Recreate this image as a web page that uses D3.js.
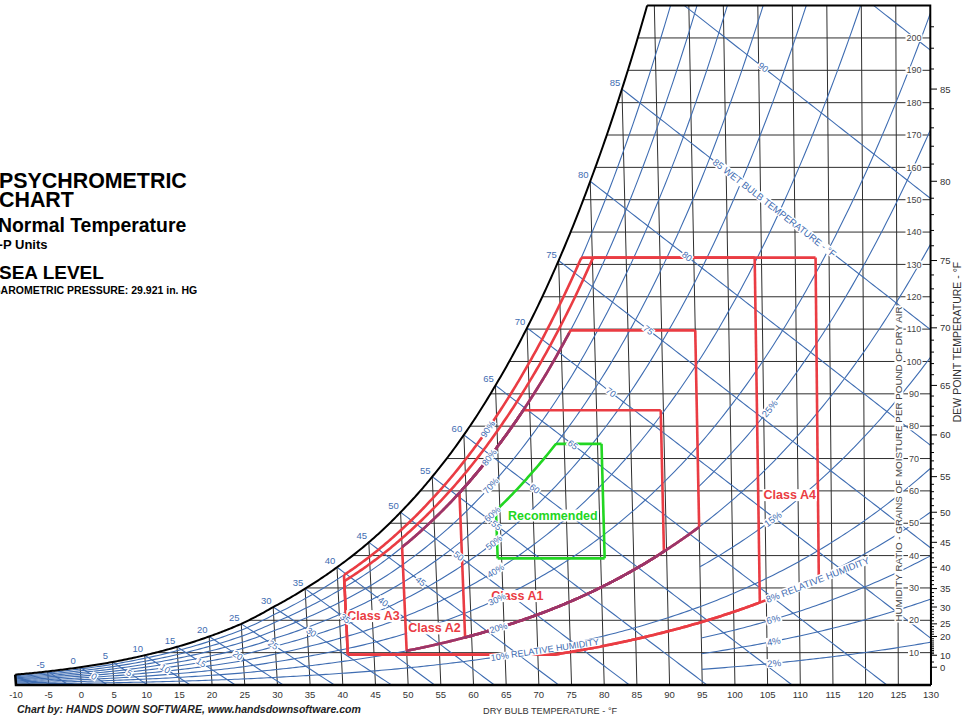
<!DOCTYPE html>
<html>
<head>
<meta charset="utf-8">
<script src="https://cdn.jsdelivr.net/npm/d3@7"></script>
<style>
  body { margin: 0; background: #fff; }
  svg { display: block; font-family: "Liberation Sans", Arial, sans-serif; }
</style>
</head>
<body>
<svg width="966" height="721"></svg>
<script>
// saturation humidity ratio at sea level (grains per lb of dry air), every 5 F
const satTemps  = [-10, -5, 0, 5, 10, 15, 20, 25, 30, 35, 40, 45, 50, 55, 60, 65, 70, 75, 80, 85, 90, 95, 100, 105, 110, 115, 120, 125, 130];
const satGrains = [3.2, 4.2, 5.5, 7.1, 9.2, 11.8, 15.0, 18.9, 24.1, 29.8, 36.4, 44.1, 53.4, 64.4, 77.3, 92.6, 110.4, 131.2, 155.7, 184.2, 217.4, 255.7, 300.7, 352.8, 413.9, 485, 567.7, 665, 778.4];

const dryBulbTicks = d3.range(-10, 131, 5);
const grainTicks   = d3.range(10, 201, 10);
const dewLabels    = [0, 10, 20, 25, 30, 35, 40, 45, 50, 55, 60, 65, 70, 75, 80, 85];
const rhMajor      = [10, 20, 30, 40, 50, 60, 70, 80, 90];
const rhMinor      = [2, 4, 6, 8, 15, 25];
const wetBulbs     = d3.range(-10, 96, 5);
const wbLabelled   = d3.range(0, 91, 5);
const satLabelled  = d3.range(-5, 86, 5);

// ASHRAE 2011 classes
const classNames = ["Class A1", "Class A2", "Class A3", "Class A4"];
const classDbMin = [59, 50, 41, 41];
const classDbMax = [89.6, 95, 104, 113];
const classRhMin = [20, 20, 8, 8];
const classRhMax = [80, 80, 85, 90];
const classDpMin = [null, null, 10.4, 10.4];
const classDpMax = [62.6, 69.8, 75.2, 75.2];
// recommended envelope
const recDb = [64.4, 80.6];
const recDpMin = 41.9, recDpMax = 59, recRhMax = 60;

const BLUE = '#3f6db2', RED = '#ea3c43', MAROON = '#9a356a', GREEN = '#22d622', GRID = '#2e2e2e';
const W_TOP = 210, P = 14.696, T0 = 132, SK = 0.444 / (0.24 * 7000);

const svg = d3.select('svg');
const x = d3.scaleLinear().domain([-10, 130]).range([16, 931]);
const y = d3.scaleLinear().domain([0, W_TOP]).range([685, 5.6]);
// dry bulb lines lean slightly (enthalpy based chart)
const px = (t, w) => x(t + (t - T0) * w * SK);
const pt = (t, w) => [px(t, w), y(w)];

const satLog = d3.scaleLinear().domain(satTemps).range(satGrains.map(Math.log));
const satT = d3.scaleLinear().domain(satGrains.map(Math.log)).range(satTemps);
const ws = t => Math.exp(satLog(t));
const tSat = w => satT(Math.log(w));
const pws = t => { const w = ws(t) / 7000; return P * w / (0.622 + w); };
const rhW = (t, rh) => { const pv = rh / 100 * pws(t); return 7000 * 0.622 * pv / (P - pv); };
const wbW = (twb, t) => {
  const s = ws(twb) / 7000;
  const w = twb >= 32
    ? ((1093 - 0.556 * twb) * s - 0.24 * (t - twb)) / (1093 + 0.444 * t - twb)
    : ((1220 - 0.04 * twb) * s - 0.24 * (t - twb)) / (1220 + 0.444 * t - 0.48 * twb);
  return w * 7000;
};

const line = d3.line();
const tTop = tSat(W_TOP);
const satPts = d3.range(-10, tTop, 0.25).concat([tTop]).map(t => pt(t, ws(t)));
const outline = [pt(-10, 0)].concat(satPts, [pt(130, W_TOP), pt(130, 0)]);

svg.append('defs').append('clipPath').attr('id', 'plot')
  .append('path').attr('d', line(outline) + 'Z');

const plot = svg.append('g').attr('clip-path', 'url(#plot)');

// grid: dry bulb and humidity ratio
plot.append('g').selectAll('line').data(dryBulbTicks.filter(t => t > -10 && t < 130))
  .join('line')
  .attr('x1', t => px(t, 0)).attr('y1', y(0))
  .attr('x2', t => px(t, Math.min(ws(t), W_TOP + 5))).attr('y2', t => y(Math.min(ws(t), W_TOP + 5)))
  .attr('stroke', GRID).attr('stroke-width', 1);

plot.append('g').selectAll('line').data(grainTicks)
  .join('line')
  .attr('x1', w => px(tSat(w), w)).attr('y1', w => y(w))
  .attr('x2', w => px(130, w)).attr('y2', w => y(w))
  .attr('stroke', GRID).attr('stroke-width', 1);

// relative humidity curves
function rhPts(rh, t0) {
  const pts = [];
  for (let t = t0; t <= 130.01; t += 0.5) {
    const w = rhW(t, rh);
    pts.push(pt(t, w));
    if (w > W_TOP + 20) break;
  }
  return pts;
}
plot.append('g').selectAll('path')
  .data(rhMajor.map(r => rhPts(r, -10)).concat(rhMinor.map(r => rhPts(r, 95))))
  .join('path').attr('d', line).attr('fill', 'none').attr('stroke', BLUE).attr('stroke-width', 1.1);

// wet bulb lines
function wbPts(twb) {
  const pts = [];
  let prev = null;
  for (let t = twb; t <= 131; t += 0.5) {
    const w = wbW(twb, t);
    if (w < 0) {
      const f = prev[1] / (prev[1] - w);
      pts.push(pt(prev[0] + f * 0.5, 0));
      break;
    }
    pts.push(pt(t, w));
    prev = [t, w];
  }
  return pts;
}
plot.append('g').selectAll('path').data(wetBulbs.map(wbPts))
  .join('path').attr('d', line).attr('fill', 'none').attr('stroke', BLUE).attr('stroke-width', 1.1);

// class envelopes
const zones = svg.append('g').attr('fill', 'none').attr('stroke-width', 2.6).attr('stroke-linejoin', 'round');
function envelope(dbMin, dbMax, rhMin, rhMax, dpMin, dpMax) {
  const lower = t => Math.max(rhMin ? rhW(t, rhMin) : 0, dpMin != null ? ws(dpMin) : 0);
  const wTop = ws(dpMax);
  const upper = t => Math.min(rhW(t, rhMax), wTop);
  const ts = d3.range(dbMin, dbMax, 0.25).concat([dbMax]);
  return {
    left: [pt(dbMin, lower(dbMin)), pt(dbMin, upper(dbMin))],
    upperRh: ts.filter(t => rhW(t, rhMax) <= wTop).map(t => pt(t, rhW(t, rhMax))),
    top: ts.map(t => pt(t, upper(t))),
    right: [pt(dbMax, upper(dbMax)), pt(dbMax, lower(dbMax))],
    lower: ts.map(t => pt(t, lower(t)))
  };
}
classNames.forEach((name, i) => {
  const e = envelope(classDbMin[i], classDbMax[i], classRhMin[i], classRhMax[i], classDpMin[i], classDpMax[i]);
  [e.left, e.top, e.right, e.lower].forEach(s => zones.append('path').attr('d', line(s)).attr('stroke', RED));
});
classNames.slice(0, 2).forEach((name, i) => {
  const e = envelope(classDbMin[i], classDbMax[i], classRhMin[i], classRhMax[i], classDpMin[i], classDpMax[i]);
  zones.append('path').attr('d', line(e.upperRh)).attr('stroke', MAROON);
  zones.append('path').attr('d', line(e.lower)).attr('stroke', MAROON);
});
{
  const e = envelope(recDb[0], recDb[1], null, recRhMax, recDpMin, recDpMax);
  [e.left, e.top, e.right, e.lower].forEach(s => zones.append('path').attr('d', line(s)).attr('stroke', GREEN));
}

// labels with white background
const labels = svg.append('g');
function tag(txt, cx, cy, ang, anchor, size, color, weight) {
  const g = labels.append('g').attr('transform', `translate(${cx},${cy}) rotate(${ang})`);
  const r = g.append('rect').attr('fill', '#fff');
  const t = g.append('text').text(txt).attr('text-anchor', anchor).attr('dy', '0.35em')
    .attr('font-size', size).attr('fill', color).attr('font-weight', weight || 'normal');
  const b = t.node().getBBox();
  r.attr('x', b.x - 1).attr('y', b.y + 1).attr('width', b.width + 2).attr('height', b.height - 2);
  return g;
}
const angle = (a, b) => Math.atan2(b[1] - a[1], b[0] - a[0]) * 180 / Math.PI;

// class names
const classTag = [[63.2, 27.6], [50.4, 17.6], [41.2, 21.4], [104.8, 58.8]];
classNames.forEach((n, i) => {
  const p = pt(classTag[i][0], classTag[i][1]);
  tag(n, p[0], p[1], 0, 'start', 12.5, RED, 'bold');
});
{ const p = pt(66.2, 52.5); tag('Recommended', p[0], p[1], 0, 'start', 12.5, GREEN, 'bold'); }

// wet bulb labels, placed near the middle band of the chart
wbLabelled.forEach(twb => {
  const band = twb < 35 ? 45 + twb * 0.3 : 55;
  let t = twb;
  while (wbW(twb, t) > rhW(t, band) && t < 140) t += 0.05;
  const w = wbW(twb, t);
  const a = angle(pt(t, w), pt(t + 1, wbW(twb, t + 1)));
  const p = pt(t, w);
  if (twb === 85) {
    const rad = a * Math.PI / 180;
    tag('85 WET BULB TEMPERATURE - \u00B0F', p[0] - 14 * Math.cos(rad), p[1] - 14 * Math.sin(rad), a, 'start', 9.5, BLUE);
  } else {
    tag(String(twb), p[0], p[1], a, 'middle', 9, BLUE);
  }
});

// relative humidity labels
rhMajor.forEach(rh => {
  const t = 62.8;
  const a = angle(pt(t, rhW(t, rh)), pt(t + 1, rhW(t + 1, rh)));
  const p = pt(t, rhW(t, rh));
  tag(rh === 10 ? '10% RELATIVE HUMIDITY' : rh + '%', p[0], p[1], a, 'start', 9, BLUE);
});
rhMinor.forEach(rh => {
  const t = 105;
  const a = angle(pt(t, rhW(t, rh)), pt(t + 1, rhW(t + 1, rh)));
  const p = pt(t, rhW(t, rh));
  tag(rh === 8 ? '8% RELATIVE HUMIDITY' : rh + '%', p[0], p[1], a, 'start', 9.5, BLUE);
});

// saturation temperature labels
svg.append('g').selectAll('text').data(satLabelled).join('text')
  .attr('x', t => px(t, ws(t)) - 7).attr('y', t => y(ws(t)) - 3)
  .attr('text-anchor', 'middle').attr('font-size', 9.5).attr('fill', BLUE)
  .text(d => d);

// humidity ratio labels inside right margin
grainTicks.forEach(w => tag(String(w), 914, y(w), 0, 'middle', 9, '#444'));

// outline
const edge = svg.append('g').attr('fill', 'none').attr('stroke', '#000');
edge.append('path').attr('d', line(satPts)).attr('stroke-width', 2);
edge.append('path').attr('d', line([pt(tTop, W_TOP), pt(130, W_TOP), pt(130, 0)])).attr('stroke-width', 2);
edge.append('path').attr('d', line([pt(-10, ws(-10)), pt(-10, 0), pt(130, 0)])).attr('stroke-width', 2.6);

// dry bulb axis labels
svg.append('g').selectAll('text').data(dryBulbTicks).join('text')
  .attr('x', t => x(t)).attr('y', 698).attr('text-anchor', 'middle')
  .attr('font-size', 9.5).attr('fill', '#333').text(d => d);

// dew point scale on the right
const dewAxis = svg.append('g').attr('stroke', '#000').attr('stroke-width', 1);
d3.range(10, 89, 1).concat([0, 5]).forEach(td => {
  const major = dewLabels.includes(td);
  dewAxis.append('line').attr('x1', x(130)).attr('x2', x(130) + (major ? 6 : 3))
    .attr('y1', y(ws(td))).attr('y2', y(ws(td)));
});
svg.append('g').selectAll('text').data(dewLabels).join('text')
  .attr('x', x(130) + 9).attr('y', td => y(ws(td)) + 3.5)
  .attr('font-size', 9.5).attr('fill', '#333').text(d => d);

// axis titles
svg.append('text').attr('x', 483).attr('y', 714).attr('font-size', 9.2).attr('fill', '#333')
  .text('DRY BULB TEMPERATURE - \u00B0F');
tag('HUMIDITY RATIO - GRAINS OF MOISTURE PER POUND OF DRY AIR', 0, 0, 0, 'middle', 9.8, '#444')
  .attr('transform', 'translate(899,464) rotate(-90)');
svg.append('text').attr('transform', 'translate(961,342) rotate(-90)').attr('text-anchor', 'middle')
  .attr('font-size', 10.5).attr('fill', '#333').text('DEW POINT TEMPERATURE - \u00B0F');
svg.append('text').attr('x', 17).attr('y', 713).attr('font-size', 10.5).attr('font-weight', 'bold')
  .attr('font-style', 'italic').attr('fill', '#222')
  .text('Chart by: HANDS DOWN SOFTWARE, www.handsdownsoftware.com');

// title block
const title = svg.append('g').attr('font-weight', 'bold').attr('fill', '#000');
title.append('text').attr('x', -1).attr('y', 188).attr('font-size', 21.4).text('PSYCHROMETRIC');
title.append('text').attr('x', -1).attr('y', 207).attr('font-size', 21.4).text('CHART');
title.append('text').attr('x', -2).attr('y', 232).attr('font-size', 19.4).text('Normal Temperature');
title.append('text').attr('x', -5).attr('y', 249).attr('font-size', 13).text('I-P Units');
title.append('text').attr('x', -1).attr('y', 279).attr('font-size', 19).text('SEA LEVEL');
title.append('text').attr('x', -7).attr('y', 294).attr('font-size', 10.5).text('BAROMETRIC PRESSURE: 29.921 in. HG');
</script>
</body>
</html>
